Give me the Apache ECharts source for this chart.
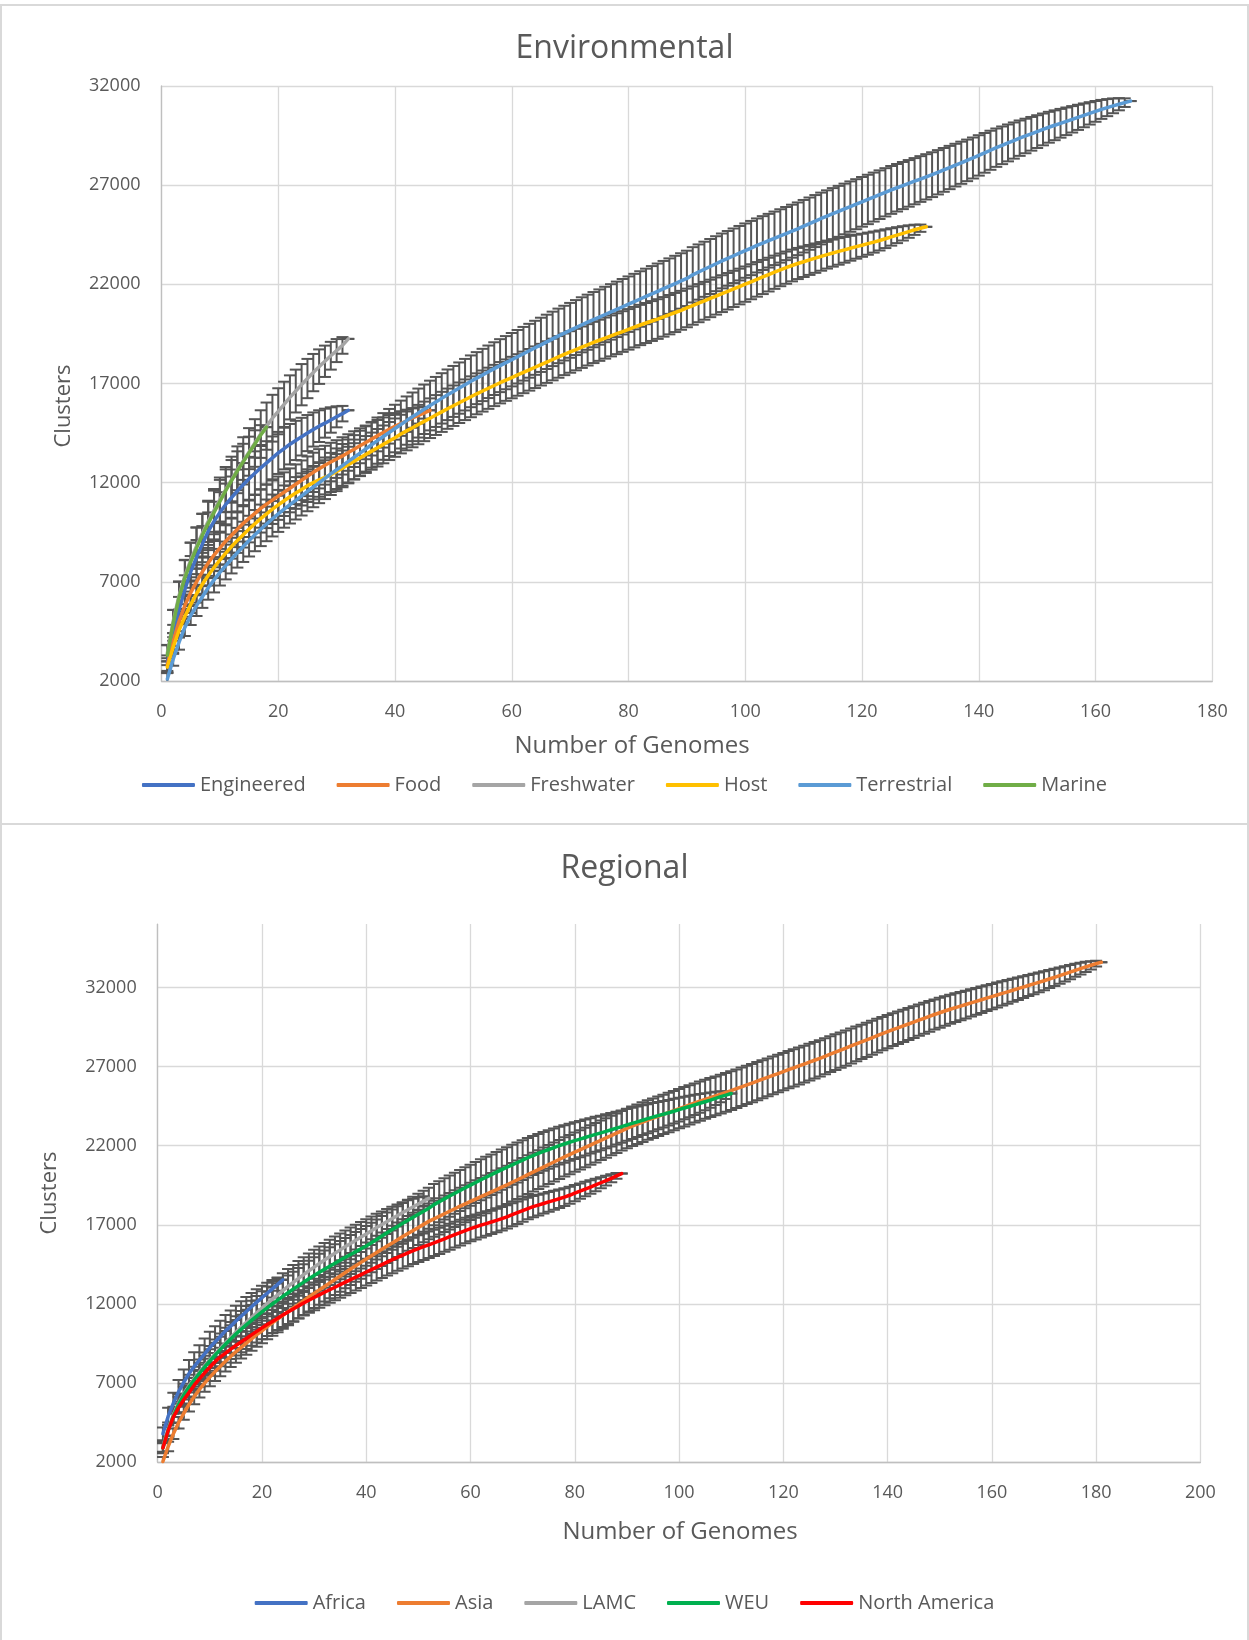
<!DOCTYPE html>
<html>
<head>
<meta charset="utf-8">
<script src="https://cdn.jsdelivr.net/npm/echarts/dist/echarts.min.js"></script>
<style>
  html, body { margin: 0; padding: 0; background: #ffffff; }
  .frame { position: absolute; left: 0; width: 1245px; border: 2px solid #d9d9d9; background: #fff; }
  #f1 { top: 4px; height: 817px; }
  #f2 { top: 823px; height: 830px; }
  #chart { position: absolute; left: 0; top: 0; width: 1249px; height: 1640px; }
</style>
</head>
<body>
<div class="frame" id="f1"></div>
<div class="frame" id="f2"></div>
<div id="chart"></div>
<script>
// ---------------- Environmental (values at 1..N genomes) ----------------
const engineered = [2900,4300,5600,6600,7500,8250,8900,9550,10050,10500,10900,11250,11580,11900,12200,12480,12750,13000,13250,13500,13720,13940,14130,14320,14500,14680,14850,15000,15160,15320,15480,15650];
const engineeredErr = [390,530,640,730,800,860,910,950,990,1020,1050,1060,1080,1090,1100,1100,1100,1090,1080,1060,1050,1020,990,950,910,860,800,730,640,530,390,0];

const food = [2800,4000,5000,5800,6450,7000,7500,7950,8350,8700,9050,9350,9650,9950,10200,10450,10700,10920,11120,11320,11520,11720,11920,12120,12320,12520,12700,12880,13040,13190,13350,13520,13690,13860,14030,14200,14370,14530,14690,14840,14980,15120,15260,15390,15520,15650];
const foodErr = [350,410,490,560,620,670,720,760,790,830,850,880,900,920,940,950,970,980,990,990,1000,1000,1000,1000,1000,990,990,980,970,950,940,920,900,880,850,830,790,760,720,670,620,560,490,410,290,0];

const freshwater = [3400,5000,6300,7300,8100,8800,9450,10050,10600,11150,11650,12150,12650,13100,13550,14000,14450,14850,15250,15600,15950,16300,16620,16940,17250,17550,17850,18120,18400,18660,18920,19250];
const freshwaterErr = [420,580,700,790,870,940,990,1040,1080,1110,1140,1160,1180,1190,1200,1200,1200,1190,1180,1160,1140,1110,1080,1040,990,940,870,790,700,580,420,0];

const host = [2700,3700,4550,5250,5850,6400,6880,7320,7720,8100,
  8450,8780,9090,9380,9660,9930,10190,10430,10660,10880,
  11090,11290,11480,11660,11850,12000,12140,12270,12400,12560,
  12730,12910,13080,13250,13420,13590,13760,13930,14100,14270,
  14450,14610,14770,14930,15090,15250,15410,15570,15730,15880,
  16030,16180,16330,16480,16620,16760,16900,17040,17170,17300,
  17430,17560,17690,17820,17950,18080,18210,18340,18470,18590,
  18710,18830,18950,19070,19180,19290,19400,19510,19620,19730,
  19840,19950,20050,20150,20250,20360,20470,20580,20690,20810,
  20930,21050,21170,21290,21410,21530,21650,21770,21890,22010,
  22130,22250,22370,22490,22610,22730,22840,22950,23050,23140,
  23230,23320,23410,23500,23580,23660,23740,23820,23900,23970,
  24050,24130,24210,24300,24390,24480,24570,24660,24750,24830,24900];
const hostErr = [300,330,360,390,420,450,480,510,530,560,
  580,610,630,650,670,690,705,720,740,755,
  770,785,800,810,825,840,850,860,870,880,
  890,900,910,920,930,935,945,953,960,967,
  973,980,986,992,997,1000,1005,1010,1015,1020,
  1022,1025,1030,1033,1036,1038,1040,1042,1044,1046,
  1047,1048,1049,1050,1050,1050,1050,1049,1048,1047,
  1046,1044,1042,1040,1038,1036,1033,1030,1025,1022,
  1020,1015,1010,1005,1000,997,992,986,980,973,
  967,960,953,945,937,928,920,912,900,890,
  882,872,861,850,838,825,812,800,785,770,
  755,740,723,705,688,670,649,628,606,582,
  558,531,503,472,439,402,361,314,257,183,0];

const terrestrial = [2100,3100,3950,4700,5300,5800,6250,6700,7100,7480,
  7820,8150,8470,8780,9080,9370,9650,9920,10180,10430,
  10660,10890,11110,11330,11560,11780,12000,12220,12440,12650,
  12860,13070,13280,13490,13700,13910,14120,14330,14530,14730,
  14930,15130,15320,15510,15700,15890,16070,16250,16430,16600,
  16770,16940,17110,17270,17430,17590,17750,17900,18050,18200,
  18350,18500,18650,18800,18950,19100,19250,19400,19540,19680,
  19820,19960,20090,20220,20350,20480,20610,20740,20870,21000,
  21130,21260,21390,21520,21650,21780,21910,22040,22170,22300,
  22480,22620,22760,22900,23040,23180,23310,23440,23570,23700,
  23830,23960,24080,24200,24320,24440,24560,24680,24800,24930,
  25060,25190,25320,25440,25560,25680,25800,25920,26040,26160,
  26280,26400,26520,26640,26760,26870,26980,27090,27200,27310,
  27420,27530,27650,27770,27890,28010,28130,28250,28370,28500,
  28630,28760,28890,29010,29130,29250,29370,29480,29590,29700,
  29810,29920,30020,30120,30220,30320,30420,30520,30620,30720,
  30820,30910,31000,31080,31160,31240];
const terrestrialErr = [300,330,370,430,478,523,563,600,634,666,
  696,725,752,778,802,826,849,871,892,912,
  930,949,967,985,1001,1018,1033,1048,1063,1077,
  1091,1104,1117,1130,1142,1153,1165,1176,1187,1198,
  1207,1217,1226,1235,1245,1253,1261,1269,1277,1285,
  1292,1299,1305,1311,1318,1324,1329,1335,1340,1345,
  1349,1353,1358,1362,1367,1370,1373,1376,1380,1383,
  1385,1387,1390,1392,1394,1396,1397,1398,1398,1399,
  1399,1400,1400,1400,1399,1399,1398,1398,1397,1396,
  1394,1392,1390,1387,1385,1383,1380,1376,1373,1370,
  1367,1362,1358,1353,1349,1345,1340,1335,1329,1324,
  1318,1311,1305,1299,1292,1285,1277,1269,1261,1253,
  1245,1235,1226,1217,1207,1198,1187,1176,1165,1153,
  1142,1130,1117,1104,1091,1077,1063,1048,1033,1018,
  1001,985,967,949,930,912,892,871,849,826,
  802,778,752,725,696,666,634,600,563,523,
  478,430,373,306,217,0];

const marine = [3300,4900,6200,7200,8000,8700,9350,9950,10500,11050,11600,12100,12600,13050,13500,13950,14400,14800];
const marineErr = [500,690,820,910,980,1040,1070,1090,1100,1090,1070,1040,980,910,820,690,500,0];

// ---------------- Regional ----------------
const africa = [3800,4900,5730,6450,7050,7600,8050,8450,8850,9250,9600,9950,10300,10600,10920,11230,11530,11830,12120,12400,12680,12960,13240,13520];
const africaErr = [400,550,660,750,810,870,910,940,970,990,1000,1000,1000,990,970,940,910,870,810,750,660,550,400,0];

const asia = [2050,3000,3800,4500,5100,5650,6150,6600,7000,7380,
  7730,8060,8380,8690,8980,9260,9530,9800,10060,10310,
  10570,10810,11050,11290,11520,11750,11980,12210,12440,12670,
  12890,13110,13330,13550,13770,13990,14210,14420,14630,14840,
  15050,15260,15460,15660,15860,16060,16260,16460,16650,16840,
  17030,17220,17380,17540,17700,17860,18020,18180,18330,18480,
  18630,18780,18930,19080,19230,19380,19530,19690,19850,20010,
  20170,20330,20490,20650,20810,20970,21130,21290,21440,21590,
  21740,21890,22040,22190,22340,22490,22640,22790,22940,23090,
  23230,23360,23490,23620,23740,23860,23980,24100,24220,24340,
  24460,24580,24700,24820,24930,25040,25150,25260,25370,25480,
  25600,25720,25840,25960,26080,26200,26320,26440,26560,26680,
  26800,26920,27040,27160,27280,27400,27520,27650,27780,27910,
  28040,28170,28300,28430,28560,28690,28820,28950,29080,29210,
  29330,29450,29570,29690,29810,29930,30050,30170,30290,30400,
  30510,30620,30720,30820,30920,31020,31120,31220,31320,31420,
  31520,31620,31720,31820,31920,32020,32120,32220,32320,32420,
  32530,32640,32750,32860,32970,33080,33190,33300,33400,33500,33590];
const asiaErr = [280,300,330,368,410,447,482,514,543,571,
  597,622,645,668,689,710,729,748,766,784,
  801,817,833,848,862,877,890,904,917,930,
  942,954,965,977,988,998,1008,1018,1028,1038,
  1046,1055,1063,1072,1080,1088,1096,1103,1111,1118,
  1125,1131,1138,1144,1150,1155,1161,1166,1172,1177,
  1181,1186,1190,1195,1199,1203,1207,1211,1215,1218,
  1221,1224,1227,1230,1232,1234,1236,1238,1240,1242,
  1243,1244,1245,1246,1248,1249,1249,1250,1250,1250,
  1250,1250,1250,1249,1249,1248,1246,1245,1244,1243,
  1242,1240,1238,1236,1234,1232,1230,1227,1224,1221,
  1218,1215,1211,1207,1203,1199,1195,1190,1186,1181,
  1177,1172,1166,1161,1155,1150,1144,1138,1131,1125,
  1118,1111,1103,1096,1088,1080,1072,1063,1055,1046,
  1038,1028,1018,1008,998,988,977,965,954,942,
  930,917,904,890,877,862,848,833,817,801,
  784,766,748,729,710,689,668,645,622,597,
  571,543,514,482,447,410,368,319,261,185,0];

const lamc = [3000,4100,5000,5720,6320,6830,7280,7700,8100,8480,8850,9200,
  9550,9890,10220,10540,10850,11150,11450,11740,12030,12310,12580,12850,13110,13370,13620,
  13860,14100,14330,14560,14780,15000,15210,15420,15630,15830,16030,16230,16430,16630,16830,
  17020,17210,17400,17590,17780,17960,18140,18320,18500,18670];
const lamcErr = [330,420,510,590,650,700,750,790,830,870,
  900,930,950,980,1000,1020,1030,1050,1060,1070,
  1080,1090,1090,1100,1100,1100,1100,1100,1090,1090,
  1080,1070,1060,1050,1030,1020,1000,980,950,930,
  900,870,830,790,750,700,650,590,510,420,300,0];

const weu = [2900,4000,4900,5650,6250,6750,7200,7620,8020,8400,
  8770,9120,9460,9790,10100,10400,10690,10970,11240,11500,
  11750,12000,12240,12480,12710,12940,13160,13380,13590,13800,
  14000,14200,14390,14580,14770,14950,15130,15310,15490,15670,
  15870,16080,16290,16500,16700,16900,17100,17290,17480,17670,
  17860,18050,18280,18460,18640,18820,19000,19170,19340,19510,
  19680,19850,20010,20170,20330,20490,20640,20790,20940,21090,
  21240,21380,21510,21640,21760,21880,22000,22110,22220,22320,
  22420,22520,22620,22720,22810,22910,23010,23110,23210,23310,
  23410,23510,23610,23710,23810,23900,23990,24080,24180,24280,
  24380,24480,24580,24680,24780,24880,24990,25100,25200,25300];
const weuErr = [330,360,420,487,542,590,635,675,713,748,
  780,811,840,867,892,917,940,962,983,1003,
  1022,1040,1057,1073,1089,1105,1119,1133,1146,1158,
  1169,1180,1191,1201,1211,1220,1228,1236,1244,1251,
  1257,1263,1268,1273,1278,1282,1286,1289,1292,1295,
  1297,1298,1299,1300,1300,1300,1299,1298,1297,1295,
  1292,1289,1286,1282,1278,1273,1268,1263,1257,1251,
  1244,1236,1228,1220,1211,1201,1191,1180,1169,1158,
  1146,1133,1119,1105,1089,1073,1057,1040,1022,1003,
  983,962,940,917,892,867,840,811,780,748,
  713,675,635,590,542,487,424,347,247,0];

const northAmerica = [2900,4000,4850,5450,5950,6400,6870,7270,7650,8000,
  8350,8650,8900,9150,9380,9600,9820,10050,10270,10490,
  10700,10900,11100,11300,11500,11690,11880,12060,12240,12410,
  12580,12740,12900,13060,13220,13380,13540,13700,13860,14020,
  14170,14330,14490,14650,14800,14950,15090,15230,15370,15500,
  15620,15740,15860,15990,16120,16250,16380,16510,16640,16760,
  16870,16980,17080,17180,17280,17390,17510,17640,17770,17900,
  18030,18150,18250,18350,18450,18550,18650,18750,18870,19000,
  19130,19260,19390,19520,19660,19800,19940,20090,20240];
const northAmericaErr = [300,320,340,370,400,430,460,490,513,537,
  559,581,600,619,636,653,668,683,697,710,
  722,733,744,754,764,773,781,789,797,804,
  810,816,821,826,830,834,838,841,844,846,
  847,848,849,850,850,849,848,847,846,844,
  841,838,834,830,826,821,816,810,804,797,
  789,781,773,764,754,744,733,722,710,697,
  683,668,653,636,619,600,581,559,537,513,
  486,458,426,392,352,307,252,179,0];

// ---------------- Series / axis labels ----------------
const envNames = ['Engineered','Food','Freshwater','Host','Terrestrial','Marine'];
const envColors = ['#4472C4','#ED7D31','#A5A5A5','#FFC000','#5B9BD5','#70AD47'];
const envData = [engineered, food, freshwater, host, terrestrial, marine];
const envErr = [engineeredErr, foodErr, freshwaterErr, hostErr, terrestrialErr, marineErr];

const regNames = ['Africa','Asia','LAMC','WEU','North America'];
const regColors = ['#4472C4','#ED7D31','#A5A5A5','#00B050','#FF0000'];
const regData = [africa, asia, lamc, weu, northAmerica];
const regErr = [africaErr, asiaErr, lamcErr, weuErr, northAmericaErr];

const titles = ['Environmental', 'Regional'];
const xTitle = 'Number of Genomes';
const yTitle = 'Clusters';

// ---------------- Build chart ----------------
const FONT = '"Open Sans", "Noto Sans", sans-serif';
const GRAY = '#595959';
const GRID_LINE = '#d9d9d9';
const AXIS_LINE = '#bfbfbf';

function pts(arr) { return arr.map((v, i) => [i + 1, v]); }
function errPts(arr, err) { return arr.map((v, i) => [i + 1, v - err[i], v + err[i]]); }

function renderErr(params, api) {
  const x = api.value(0);
  const lo = api.coord([x, api.value(1)]);
  const hi = api.coord([x, api.value(2)]);
  const w = 6;
  const st = { stroke: '#555555', lineWidth: 2 };
  return {
    type: 'group',
    children: [
      { type: 'line', shape: { x1: hi[0], y1: hi[1], x2: lo[0], y2: lo[1] }, style: st },
      { type: 'line', shape: { x1: hi[0] - w, y1: hi[1], x2: hi[0] + w, y2: hi[1] }, style: st },
      { type: 'line', shape: { x1: lo[0] - w, y1: lo[1], x2: lo[0] + w, y2: lo[1] }, style: st }
    ]
  };
}

const series = [];
function addGroup(names, colors, data, errs, idx) {
  names.forEach((n, k) => {
    series.push({
      type: 'custom', xAxisIndex: idx, yAxisIndex: idx, clip: true, silent: true,
      renderItem: renderErr, encode: { x: 0, y: [1, 2] },
      data: errPts(data[k], errs[k]), z: 2, animation: false
    });
  });
  names.forEach((n, k) => {
    series.push({
      type: 'line', name: n, xAxisIndex: idx, yAxisIndex: idx,
      data: pts(data[k]), showSymbol: false, symbol: 'none', smooth: false,
      lineStyle: { width: 3.5, color: colors[k], cap: 'round', join: 'round' },
      itemStyle: { color: colors[k] }, z: 3 + k, animation: false
    });
  });
}
addGroup(envNames, envColors, envData, envErr, 0);
addGroup(regNames, regColors, regData, regErr, 1);

function xAxisCfg(idx, max) {
  return {
    type: 'value', gridIndex: idx, min: 0, max: max, interval: 20,
    axisLine: { show: true, lineStyle: { color: AXIS_LINE, width: 1.3 } },
    axisTick: { show: false },
    axisLabel: { color: GRAY, fontSize: 18, fontFamily: FONT, margin: 22, lineHeight: 18,
      formatter: v => String(v) },
    splitLine: { show: true, lineStyle: { color: GRID_LINE, width: 1.3 } }
  };
}
function yAxisCfg(idx, max, hideMax) {
  return {
    type: 'value', gridIndex: idx, min: 2000, max: max, interval: 5000,
    axisLine: { show: true, lineStyle: { color: AXIS_LINE, width: 1.3 } },
    axisTick: { show: false },
    axisLabel: { color: GRAY, fontSize: 18, fontFamily: FONT, margin: 21, showMaxLabel: !hideMax,
      formatter: v => String(v) },
    splitLine: { show: true, showMaxLine: !hideMax, lineStyle: { color: GRID_LINE, width: 1.3 } }
  };
}

function axisTitle(text, x, y, rot, size) {
  return {
    type: 'text', x: x, y: y, rotation: rot || 0, silent: true,
    style: {
      text: text, x: 0, y: 0, fill: GRAY, fontSize: size, fontFamily: FONT,
      align: 'center', verticalAlign: 'middle', textAlign: 'center', textVerticalAlign: 'middle'
    }
  };
}

const legendBase = {
  left: 'center', icon: 'roundRect', itemWidth: 53, itemHeight: 4, itemGap: 31, padding: 0,
  textStyle: { color: GRAY, fontSize: 20, fontFamily: FONT }
};

const option = {
  backgroundColor: 'transparent',
  animation: false,
  title: [
    { text: titles[0], left: 'center', top: 33, padding: 0,
      textStyle: { fontSize: 32, fontWeight: 'normal', color: GRAY, fontFamily: FONT } },
    { text: titles[1], left: 'center', top: 853, padding: 0,
      textStyle: { fontSize: 32, fontWeight: 'normal', color: GRAY, fontFamily: FONT } }
  ],
  legend: [
    Object.assign({}, legendBase, { data: envNames, top: 775 }),
    Object.assign({}, legendBase, { data: regNames, top: 1593 })
  ],
  grid: [
    { left: 161.5, width: 1050.8, top: 86, height: 595, containLabel: false },
    { left: 157.7, width: 1042.7, top: 924.1, height: 538.2, containLabel: false }
  ],
  xAxis: [xAxisCfg(0, 180), xAxisCfg(1, 200)],
  yAxis: [yAxisCfg(0, 32000, false), yAxisCfg(1, 36000, true)],
  graphic: [
    axisTitle(xTitle, 632, 746, 0, 24),
    axisTitle(yTitle, 64, 406, Math.PI / 2, 22),
    axisTitle(xTitle, 680, 1532, 0, 24),
    axisTitle(yTitle, 50, 1193, Math.PI / 2, 22)
  ],
  series: series
};

const chart = echarts.init(document.getElementById('chart'), null, { renderer: 'canvas' });
chart.setOption(option);
</script>
</body>
</html>
